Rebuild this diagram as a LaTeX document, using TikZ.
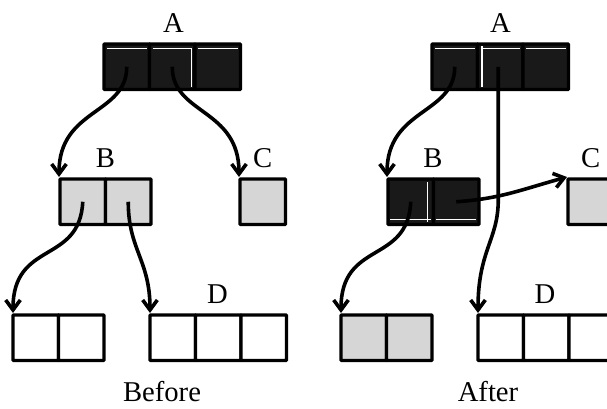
\documentclass[tikz,border=0pt]{standalone}
\usepackage{fontspec}
\setmainfont{Liberation Serif}
\usetikzlibrary{arrows.meta}
\begin{document}
\begin{tikzpicture}[x=0.75pt,y=-0.75pt,
  cell/.style={draw=black, line width=2.5pt, minimum width=34.125pt, minimum height=34.125pt, inner sep=0pt, outer sep=0pt, anchor=north west, rounded corners=0.6pt},
  darkcell/.style={cell, fill=black!90},
  lightcell/.style={cell, fill=black!16},
  plaincell/.style={cell, fill=white},
  lbl/.style={font=\fontsize{21.5}{25}\selectfont, anchor=base, inner sep=0pt, text depth=0pt},
  ptr/.style={line width=2.7pt, -{Straight Barb[length=7.5pt,width=11pt]}},
  wline/.style={draw=white, line width=0.8pt}
]
\useasboundingbox (0,0) rectangle (607,408);
\fill[white] (0,0) rectangle (607,408);
\clip (0,0) rectangle (607,408);

% ---------- Before ----------
\node[darkcell] (lA1) at (104,44) {};
\node[darkcell] (lA2) at (149.5,44) {};
\node[darkcell] (lA3) at (195,44) {};
\node[lightcell] (lB1) at (60,179) {};
\node[lightcell] (lB2) at (105.5,179) {};
\node[lightcell] (lC) at (240,179) {};
\node[plaincell] (lL1) at (13,315) {};
\node[plaincell] (lL2) at (58.5,315) {};
\node[plaincell] (lD1) at (150,315) {};
\node[plaincell] (lD2) at (195.5,315) {};
\node[plaincell] (lD3) at (241,315) {};

\node[lbl] (tA1) at (173.5,32) {A};
\node[lbl] (tB1) at (105.5,167) {B};
\node[lbl] (tC1) at (262.75,167) {C};
\node[lbl] (tD1) at (217.5,303) {D};
\node[lbl] (before) at (162,401) {Before};

\foreach \c in {lA1,lA2,lA3}
  \draw[wline] ([shift={(3,4.5)}]\c.north west) -- ([shift={(-3,4.5)}]\c.north east);
\draw[wline] ([shift={(-3.5,4)}]lA2.north east) -- ([shift={(-3.5,-2.5)}]lA2.south east);

\draw[ptr] (lA1.center) .. controls +(0,48) and +(0,-69) .. ([shift={(-1,-2)}]lB1.north west);
\draw[ptr] (lA2.center) .. controls +(0,48) and +(0,-69) .. ([shift={(-1,-2)}]lC.north west);
\draw[ptr] (lB1.center) .. controls +(-3,63) and +(0,-73) .. ([shift={(0,-2)}]lL1.north west);
\draw[ptr] (lB2.center) .. controls +(0,48) and +(0,-53) .. ([shift={(0,-2)}]lD1.north west);

% ---------- After ----------
\node[darkcell] (rA1) at (432,44) {};
\node[darkcell] (rA2) at (477.5,44) {};
\node[darkcell] (rA3) at (523,44) {};
\node[darkcell] (rB1) at (388,179) {};
\node[darkcell] (rB2) at (433.5,179) {};
\node[lightcell] (rC) at (568,179) {};
\node[lightcell] (rL1) at (341,315) {};
\node[lightcell] (rL2) at (386.5,315) {};
\node[plaincell] (rD1) at (478,315) {};
\node[plaincell] (rD2) at (523.5,315) {};
\node[plaincell] (rD3) at (569,315) {};

\node[lbl] (tA2) at (500.5,32) {A};
\node[lbl] (tB2) at (433,167) {B};
\node[lbl] (tC2) at (590.75,167) {C};
\node[lbl] (tD2) at (545,303) {D};
\node[lbl] (after) at (488,401) {After};

\foreach \c in {rA1,rA2,rA3}
  \draw[wline] ([shift={(3,4.5)}]\c.north west) -- ([shift={(-3,4.5)}]\c.north east);
\draw[wline] ([shift={(4.5,2)}]rA2.north west) -- ([shift={(4.5,-3)}]rA2.south west);
\draw[wline] ([shift={(-6,3)}]rB1.north east) -- ([shift={(-6,-3)}]rB1.south east);
\draw[wline] ([shift={(2,-5)}]rB1.south west) -- ([shift={(-3,-5)}]rB1.south east);
\draw[wline] ([shift={(2,-5)}]rB2.south west) -- ([shift={(-3,-5)}]rB2.south east);

\draw[ptr] (rA1.center) .. controls +(0,48) and +(0,-69) .. ([shift={(-1,-2)}]rB1.north west);
\draw[ptr] ([shift={(-2,0)}]rA2.center) -- ([shift={(-2,0)}]rA2.center |- 0,200)
   .. controls +(0,40) and +(0,-63) .. ([shift={(0,-2)}]rD1.north west);
\draw[ptr] (rB1.center) .. controls +(-3,63) and +(0,-73) .. ([shift={(0,-2)}]rL1.north west);
\draw[ptr] (rB2.center) .. controls +(44,-3) and +(-47,13) .. ([shift={(-1,-2)}]rC.north west);
\end{tikzpicture}
\end{document}
